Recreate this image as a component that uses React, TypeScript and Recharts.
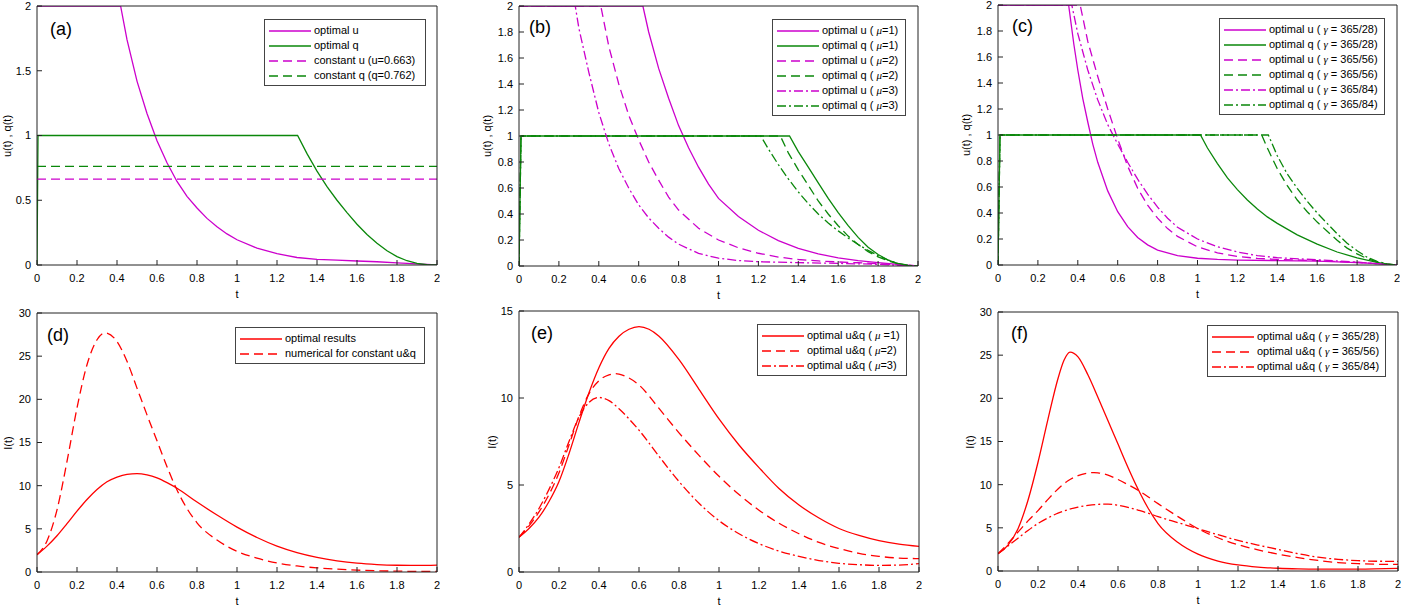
import React from "react";
import { LineChart, Line, XAxis, YAxis, Legend } from "recharts";

type Pt = [number, number];

const tTicks = [0, 0.2, 0.4, 0.6, 0.8, 1, 1.2, 1.4, 1.6, 1.8, 2];
const uqTicksA = [0, 0.5, 1, 1.5, 2];
const uqTicks = [0, 0.2, 0.4, 0.6, 0.8, 1, 1.2, 1.4, 1.6, 1.8, 2];
const iTicks30 = [0, 5, 10, 15, 20, 25, 30];
const iTicks15 = [0, 5, 10, 15];

// (a) optimal vs constant controls
const aUopt: Pt[] = [[0, 2], [0.418, 2], [0.45, 1.74], [0.5, 1.42], [0.55, 1.17], [0.6, 0.96], [0.65, 0.79], [0.7, 0.645], [0.75, 0.53], [0.8, 0.44], [0.85, 0.36], [0.9, 0.295], [0.95, 0.24], [1.0, 0.195], [1.1, 0.13], [1.2, 0.087], [1.3, 0.058], [1.4, 0.044], [1.5, 0.037], [1.6, 0.031], [1.7, 0.025], [1.8, 0.017], [1.9, 0.008], [2, 0]];
const aQopt: Pt[] = [[0, 0], [0.005, 1], [1.303, 1], [1.35, 0.86], [1.4, 0.725], [1.45, 0.605], [1.5, 0.5], [1.55, 0.405], [1.6, 0.315], [1.65, 0.235], [1.7, 0.168], [1.75, 0.11], [1.8, 0.065], [1.85, 0.033], [1.9, 0.012], [1.95, 0.002], [2, 0]];
const aUconst: Pt[] = [[0, 0.663], [2, 0.663]];
const aQconst: Pt[] = [[0, 0.762], [2, 0.762]];

// (b) mu = 1, 2, 3
const bU1: Pt[] = [[0, 2], [0.621, 2], [0.65, 1.8], [0.7, 1.52], [0.75, 1.29], [0.8, 1.08], [0.85, 0.91], [0.9, 0.76], [0.95, 0.63], [1.0, 0.52], [1.1, 0.38], [1.2, 0.275], [1.3, 0.195], [1.4, 0.135], [1.5, 0.093], [1.6, 0.063], [1.7, 0.042], [1.8, 0.026], [1.9, 0.012], [2, 0]];
const bQ1: Pt[] = [[0, 0], [0.01, 1], [1.356, 1], [1.4, 0.88], [1.45, 0.76], [1.5, 0.64], [1.55, 0.52], [1.6, 0.41], [1.65, 0.31], [1.7, 0.22], [1.75, 0.145], [1.8, 0.088], [1.85, 0.046], [1.9, 0.018], [1.95, 0.004], [2, 0]];
const bU2: Pt[] = [[0, 2], [0.41, 2], [0.45, 1.69], [0.5, 1.4], [0.55, 1.16], [0.6, 0.97], [0.65, 0.8], [0.7, 0.66], [0.75, 0.53], [0.8, 0.43], [0.9, 0.29], [1.0, 0.2], [1.1, 0.14], [1.2, 0.098], [1.3, 0.069], [1.4, 0.05], [1.5, 0.039], [1.6, 0.031], [1.7, 0.025], [1.8, 0.018], [1.9, 0.009], [2, 0]];
const bQ2: Pt[] = [[0, 0], [0.01, 1], [1.31, 1], [1.35, 0.87], [1.4, 0.74], [1.45, 0.62], [1.5, 0.5], [1.55, 0.4], [1.6, 0.31], [1.65, 0.23], [1.7, 0.165], [1.75, 0.11], [1.8, 0.07], [1.85, 0.04], [1.9, 0.017], [1.95, 0.004], [2, 0]];
const bU3: Pt[] = [[0, 2], [0.282, 2], [0.3, 1.83], [0.35, 1.49], [0.4, 1.18], [0.45, 0.94], [0.5, 0.75], [0.55, 0.6], [0.6, 0.47], [0.65, 0.37], [0.7, 0.29], [0.75, 0.222], [0.8, 0.168], [0.9, 0.097], [1.0, 0.06], [1.1, 0.042], [1.2, 0.033], [1.4, 0.026], [1.6, 0.02], [1.8, 0.013], [2, 0]];
const bQ3: Pt[] = [[0, 0], [0.01, 1], [1.212, 1], [1.25, 0.9], [1.3, 0.78], [1.35, 0.67], [1.4, 0.57], [1.45, 0.48], [1.5, 0.4], [1.55, 0.33], [1.6, 0.27], [1.65, 0.215], [1.7, 0.165], [1.75, 0.12], [1.8, 0.08], [1.85, 0.045], [1.9, 0.02], [1.95, 0.005], [2, 0]];

// (c) gamma = 365/28, 365/56, 365/84
const cU28: Pt[] = [[0, 2], [0.354, 2], [0.38, 1.7], [0.4, 1.5], [0.425, 1.28], [0.45, 1.1], [0.475, 0.93], [0.5, 0.79], [0.55, 0.57], [0.6, 0.41], [0.65, 0.295], [0.7, 0.212], [0.75, 0.155], [0.8, 0.115], [0.9, 0.072], [1.0, 0.052], [1.1, 0.043], [1.2, 0.038], [1.4, 0.034], [1.6, 0.03], [1.8, 0.018], [1.9, 0.01], [2, 0]];
const cQ28: Pt[] = [[0, 0], [0.01, 1], [1.015, 1], [1.05, 0.9], [1.1, 0.78], [1.15, 0.67], [1.2, 0.58], [1.25, 0.5], [1.3, 0.43], [1.35, 0.37], [1.4, 0.32], [1.5, 0.232], [1.6, 0.16], [1.7, 0.1], [1.8, 0.055], [1.9, 0.02], [1.95, 0.006], [2, 0]];
const cU56: Pt[] = [[0, 2], [0.412, 2], [0.45, 1.72], [0.5, 1.45], [0.55, 1.2], [0.6, 0.97], [0.65, 0.76], [0.7, 0.59], [0.75, 0.46], [0.8, 0.36], [0.85, 0.28], [0.9, 0.22], [1.0, 0.14], [1.1, 0.093], [1.2, 0.066], [1.3, 0.051], [1.4, 0.043], [1.6, 0.034], [1.8, 0.02], [1.9, 0.01], [2, 0]];
const cQ56: Pt[] = [[0, 0], [0.01, 1], [1.322, 1], [1.35, 0.9], [1.4, 0.74], [1.45, 0.61], [1.5, 0.5], [1.55, 0.41], [1.6, 0.33], [1.65, 0.26], [1.7, 0.19], [1.75, 0.13], [1.8, 0.085], [1.85, 0.05], [1.9, 0.022], [1.95, 0.006], [2, 0]];
const cU84: Pt[] = [[0, 2], [0.37, 2], [0.4, 1.78], [0.45, 1.5], [0.5, 1.27], [0.55, 1.08], [0.6, 0.93], [0.65, 0.79], [0.7, 0.66], [0.75, 0.545], [0.8, 0.445], [0.85, 0.36], [0.9, 0.29], [1.0, 0.2], [1.1, 0.14], [1.2, 0.1], [1.3, 0.072], [1.4, 0.056], [1.6, 0.04], [1.8, 0.022], [1.9, 0.01], [2, 0]];
const cQ84: Pt[] = [[0, 0], [0.01, 1], [1.355, 1], [1.4, 0.84], [1.45, 0.7], [1.5, 0.59], [1.55, 0.49], [1.6, 0.4], [1.65, 0.32], [1.7, 0.24], [1.75, 0.168], [1.8, 0.11], [1.85, 0.06], [1.9, 0.028], [1.95, 0.008], [2, 0]];

// (d) infected, optimal vs constant
const dOpt: Pt[] = [[0, 2], [0.05, 3.0], [0.1, 4.2], [0.15, 5.6], [0.2, 7.05], [0.25, 8.4], [0.3, 9.55], [0.35, 10.45], [0.4, 11.0], [0.45, 11.32], [0.5, 11.4], [0.55, 11.25], [0.6, 10.9], [0.65, 10.35], [0.7, 9.7], [0.8, 8.1], [0.9, 6.6], [1.0, 5.2], [1.1, 4.0], [1.2, 3.0], [1.3, 2.25], [1.4, 1.7], [1.5, 1.3], [1.6, 1.02], [1.7, 0.86], [1.8, 0.78], [1.9, 0.76], [2, 0.8]];
const dConst: Pt[] = [[0, 2], [0.05, 3.6], [0.1, 7.2], [0.15, 12.8], [0.2, 19.0], [0.25, 24.0], [0.3, 26.9], [0.34, 27.7], [0.4, 26.7], [0.45, 24.4], [0.5, 21.3], [0.55, 18.2], [0.6, 15.2], [0.65, 12.2], [0.7, 9.5], [0.75, 7.35], [0.8, 5.7], [0.9, 3.7], [1.0, 2.4], [1.1, 1.6], [1.2, 1.05], [1.3, 0.7], [1.4, 0.48], [1.5, 0.33], [1.6, 0.22], [1.8, 0.1], [2, 0.06]];

// (e) infected for mu = 1, 2, 3
const eMu1: Pt[] = [[0, 2], [0.05, 2.5], [0.1, 3.15], [0.15, 4.05], [0.2, 5.2], [0.25, 6.8], [0.3, 8.6], [0.35, 10.3], [0.4, 11.75], [0.45, 12.85], [0.5, 13.55], [0.55, 13.95], [0.6, 14.1], [0.65, 13.95], [0.7, 13.55], [0.8, 12.2], [0.9, 10.5], [1.0, 8.8], [1.1, 7.3], [1.2, 6.0], [1.3, 4.8], [1.4, 3.85], [1.5, 3.1], [1.6, 2.5], [1.7, 2.1], [1.8, 1.8], [1.9, 1.6], [2, 1.47]];
const eMu2: Pt[] = [[0, 2], [0.05, 2.65], [0.1, 3.45], [0.15, 4.45], [0.2, 5.7], [0.25, 7.3], [0.3, 8.95], [0.35, 10.25], [0.4, 11.0], [0.45, 11.33], [0.48, 11.4], [0.5, 11.37], [0.55, 11.15], [0.6, 10.75], [0.7, 9.4], [0.8, 8.0], [0.9, 6.7], [1.0, 5.5], [1.1, 4.45], [1.2, 3.55], [1.3, 2.8], [1.4, 2.2], [1.5, 1.7], [1.6, 1.35], [1.7, 1.07], [1.8, 0.9], [1.9, 0.8], [2, 0.77]];
const eMu3: Pt[] = [[0, 2], [0.05, 2.75], [0.1, 3.65], [0.15, 4.75], [0.2, 6.0], [0.25, 7.5], [0.3, 8.9], [0.35, 9.75], [0.4, 10.03], [0.45, 9.85], [0.5, 9.38], [0.55, 8.8], [0.6, 8.15], [0.7, 6.65], [0.8, 5.2], [0.9, 3.95], [1.0, 2.95], [1.1, 2.2], [1.2, 1.63], [1.3, 1.2], [1.4, 0.9], [1.5, 0.66], [1.6, 0.5], [1.7, 0.42], [1.8, 0.38], [1.9, 0.4], [2, 0.48]];

// (f) infected for gamma = 365/28, 365/56, 365/84
const fG28: Pt[] = [[0, 2], [0.05, 3.0], [0.1, 4.9], [0.15, 8.2], [0.2, 12.6], [0.25, 17.6], [0.3, 22.3], [0.33, 24.4], [0.36, 25.35], [0.4, 24.8], [0.45, 22.7], [0.5, 20.1], [0.55, 17.4], [0.6, 14.7], [0.65, 12.0], [0.7, 9.5], [0.75, 7.3], [0.8, 5.5], [0.9, 3.3], [1.0, 1.95], [1.1, 1.15], [1.2, 0.7], [1.3, 0.45], [1.4, 0.32], [1.5, 0.25], [1.6, 0.22], [1.8, 0.22], [2, 0.3]];
const fG56: Pt[] = [[0, 2], [0.05, 3.2], [0.1, 4.5], [0.15, 5.8], [0.2, 7.0], [0.25, 8.3], [0.3, 9.5], [0.35, 10.45], [0.4, 11.05], [0.45, 11.35], [0.48, 11.4], [0.5, 11.37], [0.55, 11.1], [0.6, 10.6], [0.65, 10.0], [0.7, 9.35], [0.75, 8.6], [0.8, 7.8], [0.9, 6.3], [1.0, 4.9], [1.1, 3.85], [1.2, 3.05], [1.3, 2.45], [1.4, 1.95], [1.5, 1.55], [1.6, 1.22], [1.7, 0.98], [1.8, 0.85], [1.9, 0.78], [2, 0.76]];
const fG84: Pt[] = [[0, 2], [0.05, 2.9], [0.1, 3.8], [0.15, 4.7], [0.2, 5.5], [0.25, 6.15], [0.3, 6.7], [0.35, 7.1], [0.4, 7.4], [0.45, 7.6], [0.5, 7.72], [0.55, 7.75], [0.6, 7.62], [0.65, 7.38], [0.7, 7.05], [0.75, 6.7], [0.8, 6.3], [0.9, 5.6], [1.0, 4.9], [1.1, 4.2], [1.2, 3.55], [1.3, 3.0], [1.4, 2.5], [1.5, 2.0], [1.6, 1.6], [1.7, 1.35], [1.8, 1.2], [1.9, 1.13], [2, 1.12]];

const MAG = "#cc00cc";
const GRN = "#0a870a";
const RED = "#ff0000";
const AX = "#222";
const DASH = "9 5";
const DASHDOT = "9 3 2 3";

const Mu = () => <i style={{ fontFamily: "'Liberation Serif', serif" }}>μ</i>;
const Ga = () => <i style={{ fontFamily: "'Liberation Serif', serif" }}>γ</i>;

type Series = { key: string; label: React.ReactNode; pts: Pt[]; color: string; dash?: string };
type Box = { l: number; t: number; r: number; b: number };

type PanelProps = {
  plot: Box;
  yDomain: [number, number];
  yTicks: number[];
  yLabel: string;
  yLabelX: number;
  tag: string;
  tagX: number;
  tagY: number;
  legend: { l: number; t: number; w: number };
  curve: "linear" | "monotone";
  series: Series[];
};

function LegendBox({ series, w }: { series: Series[]; w: number }) {
  return (
    <div
      style={{
        width: w,
        boxSizing: "border-box",
        border: "1.5px solid #444",
        background: "#fff",
        padding: "3px 0 2px 4px",
        fontSize: 11,
        lineHeight: "15px",
        color: "#000",
      }}
    >
      {series.map((s) => (
        <div key={s.key} style={{ display: "flex", alignItems: "center", height: 15, whiteSpace: "nowrap" }}>
          <svg width={42} height={6} style={{ marginRight: 3, flex: "none" }}>
            <line x1={0} y1={3} x2={42} y2={3} stroke={s.color} strokeWidth={1.3} strokeDasharray={s.dash} />
          </svg>
          <span>{s.label}</span>
        </div>
      ))}
    </div>
  );
}

function Panel(p: PanelProps) {
  const cx = p.plot.l - 40;
  const cy = p.plot.t - 8;
  const w = p.plot.r - p.plot.l + 43;
  const h = p.plot.b - p.plot.t + 48;
  const midY = (p.plot.t + p.plot.b) / 2;
  return (
    <>
      <div style={{ position: "absolute", left: cx, top: cy }}>
        <LineChart width={w} height={h} margin={{ top: 7, right: 2, bottom: 0, left: 0 }}>
          <XAxis
            xAxisId="b"
            dataKey="t"
            type="number"
            domain={[0, 2]}
            ticks={tTicks}
            allowDataOverflow
            height={40}
            tickSize={-5}
            tickMargin={14}
            stroke={AX}
            tick={{ fill: "#000", fontSize: 11 }}
            label={{ value: "t", position: "insideBottom", offset: 7, fill: "#000", fontSize: 11 }}
          />
          <XAxis
            xAxisId="top"
            orientation="top"
            dataKey="t"
            type="number"
            domain={[0, 2]}
            ticks={tTicks}
            allowDataOverflow
            height={1}
            tickSize={-5}
            tick={false}
            stroke={AX}
          />
          <YAxis
            yAxisId="l"
            type="number"
            domain={p.yDomain}
            ticks={p.yTicks}
            allowDataOverflow
            width={40}
            tickSize={-5}
            tickMargin={11}
            stroke={AX}
            tick={{ fill: "#000", fontSize: 11 }}
          />
          <YAxis
            yAxisId="r"
            orientation="right"
            type="number"
            domain={p.yDomain}
            ticks={p.yTicks}
            allowDataOverflow
            width={1}
            tickSize={-5}
            tick={false}
            stroke={AX}
          />
          <Legend
            layout="vertical"
            align="center"
            verticalAlign="middle"
            wrapperStyle={{ left: p.legend.l - cx, top: p.legend.t - cy, width: p.legend.w }}
            content={() => <LegendBox series={p.series} w={p.legend.w} />}
          />
          {p.series.map((s) => (
            <Line
              key={s.key}
              xAxisId="b"
              yAxisId="l"
              name={s.key}
              data={s.pts.map(([t, v]) => ({ t, v }))}
              dataKey="v"
              type={p.curve}
              stroke={s.color}
              strokeWidth={1.3}
              strokeDasharray={s.dash}
              dot={false}
              activeDot={false}
              isAnimationActive={false}
            />
          ))}
        </LineChart>
      </div>
      <div
        style={{
          position: "absolute",
          left: p.tagX,
          top: p.tagY - 10,
          fontSize: 18,
          lineHeight: "20px",
          color: "#000",
        }}
      >
        {p.tag}
      </div>
      <div
        style={{
          position: "absolute",
          left: p.yLabelX,
          top: midY,
          fontSize: 11,
          lineHeight: "12px",
          whiteSpace: "nowrap",
          color: "#000",
          transform: "translate(-50%, -50%) rotate(-90deg)",
        }}
      >
        {p.yLabel}
      </div>
    </>
  );
}

export default function App() {
  return (
    <div
      style={{
        position: "absolute",
        left: 0,
        top: 0,
        width: 1401,
        height: 606,
        overflow: "hidden",
        background: "#fff",
        fontFamily: "'Liberation Sans', Arial, Helvetica, sans-serif",
      }}
    >
      <Panel
        plot={{ l: 37, t: 6, r: 437, b: 265 }}
        yDomain={[0, 2]}
        yTicks={uqTicksA}
        yLabel="u(t) , q(t)"
        yLabelX={7}
        tag="(a)"
        tagX={50}
        tagY={28.5}
        legend={{ l: 264, t: 19, w: 162 }}
        curve="linear"
        series={[
          { key: "au", label: "optimal u", pts: aUopt, color: MAG },
          { key: "aq", label: "optimal q", pts: aQopt, color: GRN },
          { key: "auc", label: "constant u (u=0.663)", pts: aUconst, color: MAG, dash: DASH },
          { key: "aqc", label: "constant q (q=0.762)", pts: aQconst, color: GRN, dash: DASH },
        ]}
      />
      <Panel
        plot={{ l: 519, t: 6, r: 918, b: 266 }}
        yDomain={[0, 2]}
        yTicks={uqTicks}
        yLabel="u(t) , q(t)"
        yLabelX={487}
        tag="(b)"
        tagX={529}
        tagY={26.5}
        legend={{ l: 772, t: 19, w: 134 }}
        curve="linear"
        series={[
          { key: "bu1", label: <>optimal u ( <Mu />=1)</>, pts: bU1, color: MAG },
          { key: "bq1", label: <>optimal q ( <Mu />=1)</>, pts: bQ1, color: GRN },
          { key: "bu2", label: <>optimal u ( <Mu />=2)</>, pts: bU2, color: MAG, dash: DASH },
          { key: "bq2", label: <>optimal q ( <Mu />=2)</>, pts: bQ2, color: GRN, dash: DASH },
          { key: "bu3", label: <>optimal u ( <Mu />=3)</>, pts: bU3, color: MAG, dash: DASHDOT },
          { key: "bq3", label: <>optimal q ( <Mu />=3)</>, pts: bQ3, color: GRN, dash: DASHDOT },
        ]}
      />
      <Panel
        plot={{ l: 998, t: 5, r: 1397, b: 265 }}
        yDomain={[0, 2]}
        yTicks={uqTicks}
        yLabel="u(t) , q(t)"
        yLabelX={966}
        tag="(c)"
        tagX={1012}
        tagY={25.5}
        legend={{ l: 1219, t: 18, w: 166 }}
        curve="linear"
        series={[
          { key: "cu28", label: <>optimal u ( <Ga /> = 365/28)</>, pts: cU28, color: MAG },
          { key: "cq28", label: <>optimal q ( <Ga /> = 365/28)</>, pts: cQ28, color: GRN },
          { key: "cu56", label: <>optimal u ( <Ga /> = 365/56)</>, pts: cU56, color: MAG, dash: DASH },
          { key: "cq56", label: <>optimal q ( <Ga /> = 365/56)</>, pts: cQ56, color: GRN, dash: DASH },
          { key: "cu84", label: <>optimal u ( <Ga /> = 365/84)</>, pts: cU84, color: MAG, dash: DASHDOT },
          { key: "cq84", label: <>optimal q ( <Ga /> = 365/84)</>, pts: cQ84, color: GRN, dash: DASHDOT },
        ]}
      />
      <Panel
        plot={{ l: 37, t: 313, r: 437, b: 572 }}
        yDomain={[0, 30]}
        yTicks={iTicks30}
        yLabel="I(t)"
        yLabelX={8}
        tag="(d)"
        tagX={47}
        tagY={334.5}
        legend={{ l: 235, t: 327, w: 190 }}
        curve="monotone"
        series={[
          { key: "dopt", label: "optimal results", pts: dOpt, color: RED },
          { key: "dcon", label: "numerical for constant u&q", pts: dConst, color: RED, dash: DASH },
        ]}
      />
      <Panel
        plot={{ l: 519, t: 311, r: 919, b: 572 }}
        yDomain={[0, 15]}
        yTicks={iTicks15}
        yLabel="I(t)"
        yLabelX={492}
        tag="(e)"
        tagX={531}
        tagY={333}
        legend={{ l: 757, t: 324, w: 150 }}
        curve="monotone"
        series={[
          { key: "e1", label: <>optimal u&amp;q ( <Mu /> =1)</>, pts: eMu1, color: RED },
          { key: "e2", label: <>optimal u&amp;q ( <Mu />=2)</>, pts: eMu2, color: RED, dash: DASH },
          { key: "e3", label: <>optimal u&amp;q ( <Mu />=3)</>, pts: eMu3, color: RED, dash: DASHDOT },
        ]}
      />
      <Panel
        plot={{ l: 998, t: 312, r: 1398, b: 571 }}
        yDomain={[0, 30]}
        yTicks={iTicks30}
        yLabel="I(t)"
        yLabelX={970}
        tag="(f)"
        tagX={1011}
        tagY={333}
        legend={{ l: 1207, t: 325, w: 179 }}
        curve="monotone"
        series={[
          { key: "f28", label: <>optimal u&amp;q ( <Ga /> = 365/28)</>, pts: fG28, color: RED },
          { key: "f56", label: <>optimal u&amp;q ( <Ga /> = 365/56)</>, pts: fG56, color: RED, dash: DASH },
          { key: "f84", label: <>optimal u&amp;q ( <Ga /> = 365/84)</>, pts: fG84, color: RED, dash: DASHDOT },
        ]}
      />
    </div>
  );
}
